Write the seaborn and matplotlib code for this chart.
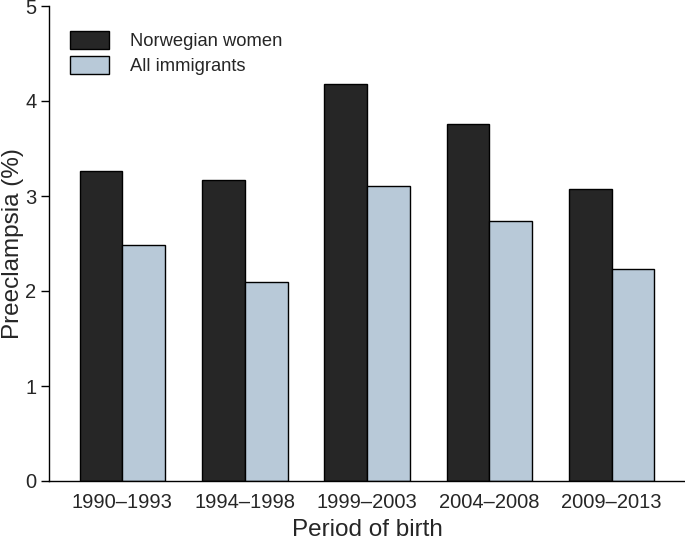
import matplotlib
matplotlib.use("Agg")
import matplotlib.pyplot as plt
import seaborn as sns
import pandas as pd

periods = ["1990\u20131993", "1994\u20131998", "1999\u20132003", "2004\u20132008", "2009\u20132013"]
norwegian = [3.26, 3.17, 4.18, 3.76, 3.07]
immigrants = [2.48, 2.10, 3.11, 2.74, 2.23]
groups = ["Norwegian women", "All immigrants"]
colors = ["#262626", "#b8c9d8"]

df = pd.DataFrame({
    "period": periods * 2,
    "value": norwegian + immigrants,
    "group": [groups[0]] * len(periods) + [groups[1]] * len(periods),
})

sns.set_style("white")
plt.rcParams["font.family"] = ["Liberation Sans", "DejaVu Sans"]

fig = plt.figure(figsize=(6.85, 5.43), dpi=100)
ax = fig.add_axes([49/685, 62/543, 1 - 49/685, (481-6)/543])

sns.barplot(data=df, x="period", y="value", hue="group", palette=colors,
            saturation=1, width=0.7, edgecolor="black", linewidth=1.0, ax=ax,
            errorbar=None)

ax.set_xlim(-0.6, 4.6)
ax.set_ylim(0, 5)
ax.set_yticks([0, 1, 2, 3, 4, 5])
ax.set_yticklabels(["0", "1", "2", "3", "4", "5"])
for s in ["top", "right"]:
    ax.spines[s].set_visible(False)
ax.spines["left"].set_color("black")
ax.spines["bottom"].set_color("black")
ax.spines["left"].set_linewidth(1.0)
ax.spines["bottom"].set_linewidth(1.0)
ax.tick_params(axis="y", which="both", left=True, length=6, width=1.0, color="black",
               labelsize=14.5, pad=3)
ax.tick_params(axis="x", which="both", bottom=False, labelsize=14.5, pad=5)
ax.set_xlabel("Period of birth", fontsize=17.5, labelpad=5)
ax.set_ylabel("Preeclampsia (%)", fontsize=17.5, labelpad=1)

handles, labels = ax.get_legend_handles_labels()
if ax.get_legend() is not None:
    ax.get_legend().remove()
fig.legend(handles, labels, loc="upper left", bbox_to_anchor=(70/685, 1 - 31/543),
           bbox_transform=fig.transFigure, frameon=False, fontsize=13.2,
           borderpad=0, borderaxespad=0, handlelength=2.1, handleheight=1.15,
           handletextpad=1.2, labelspacing=0.3)

fig.savefig("out.png", dpi=100)
